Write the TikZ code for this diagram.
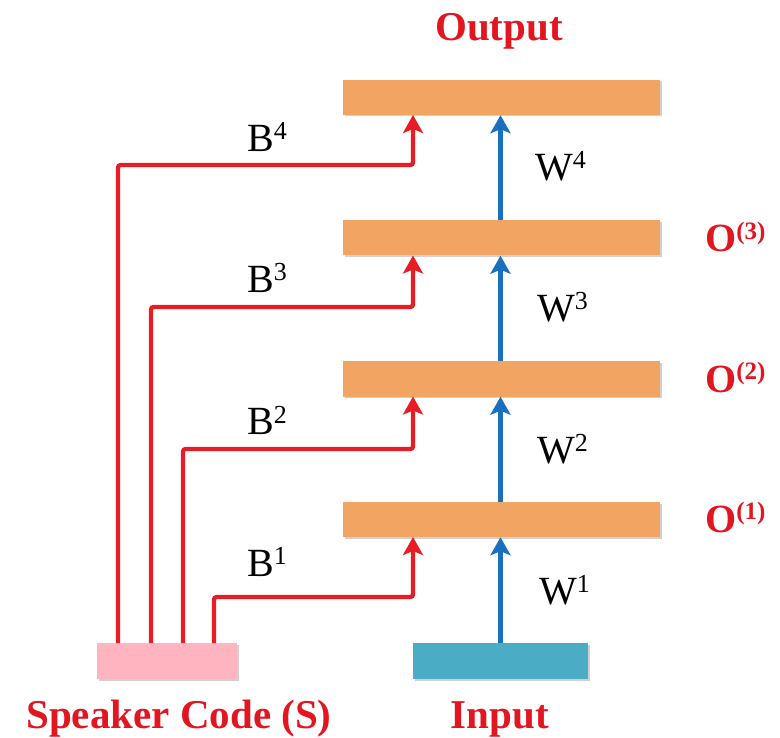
\documentclass[tikz,border=0pt]{standalone}
\usepackage{fontspec}
\setmainfont{Liberation Serif}
\usetikzlibrary{arrows.meta,shadows}
\definecolor{barorange}{RGB}{242,164,98}
\definecolor{spkpink}{RGB}{255,180,192}
\definecolor{inteal}{RGB}{75,172,198}
\definecolor{linered}{RGB}{232,28,36}
\definecolor{txtred}{RGB}{225,22,32}
\definecolor{lineblue}{RGB}{24,112,190}
\newcommand{\supnum}[1]{\raisebox{0.3em}{\fontsize{26}{30}\selectfont #1}}
\tikzset{
  boxshadow/.style={drop shadow={shadow xshift=1.5pt,shadow yshift=-1.5pt,opacity=0.18,fill=black}},
  bar/.style={rectangle,fill=barorange,minimum width=317pt,minimum height=35pt,inner sep=0pt,boxshadow},
  spkbox/.style={rectangle,fill=spkpink,minimum width=140pt,minimum height=36pt,inner sep=0pt,boxshadow},
  inbox/.style={rectangle,fill=inteal,minimum width=175pt,minimum height=36pt,inner sep=0pt,boxshadow},
  redline/.style={draw=linered,line width=4.2pt,rounded corners=2.5pt,-{Stealth[length=18pt,width=20pt,inset=4pt]}},
  blueline/.style={draw=lineblue,line width=4.2pt,-{Stealth[length=18pt,width=20pt,inset=4pt]}},
  wlabel/.style={inner sep=0pt,anchor=base west,font=\fontsize{40}{48}\selectfont,text=black},
  olabel/.style={inner sep=0pt,anchor=base west,font=\fontsize{40}{48}\selectfont\bfseries,text=txtred},
  title/.style={inner sep=0pt,anchor=base,font=\fontsize{41}{49}\selectfont\bfseries,text=txtred}
}
\begin{document}
\begin{tikzpicture}[x=1pt,y=-1pt]
\useasboundingbox (0,0) rectangle (780,738);
% hidden layers / output
\node[bar] (h4) at (501.5,97.5) {};
\node[bar] (h3) at (501.5,238) {};
\node[bar] (h2) at (501.5,379) {};
\node[bar] (h1) at (501.5,519.5) {};
% input boxes
\node[spkbox] (spk) at (167,661) {};
\node[inbox] (inp) at (500.5,661) {};
% blue arrows
\draw[blueline] (inp.north) -- (inp.north |- h1.south);
\draw[blueline] (inp.north |- h1.north) -- (inp.north |- h2.south);
\draw[blueline] (inp.north |- h2.north) -- (inp.north |- h3.south);
\draw[blueline] (inp.north |- h3.north) -- (inp.north |- h4.south);
% red connectors
\coordinate (s4) at (118,643);
\coordinate (s3) at (151,643);
\coordinate (s2) at (183,643);
\coordinate (s1) at (214,643);
\coordinate (t4) at (413,115);
\coordinate (t3) at (413,255.5);
\coordinate (t2) at (413,396.5);
\coordinate (t1) at (413,537);
\draw[redline] (s4) |- (413,165) -- (t4);
\draw[redline] (s3) |- (413,307) -- (t3);
\draw[redline] (s2) |- (413,449) -- (t2);
\draw[redline] (s1) |- (413,597) -- (t1);
% B labels
\node[wlabel] (b4) at (247,152) {B\supnum{4}};
\node[wlabel] (b3) at (247,293) {B\supnum{3}};
\node[wlabel] (b2) at (247,435) {B\supnum{2}};
\node[wlabel] (b1) at (247,576) {B\supnum{1}};
% W labels
\node[wlabel] (w4) at (535,181) {W\supnum{4}};
\node[wlabel] (w3) at (537,322) {W\supnum{3}};
\node[wlabel] (w2) at (537,463) {W\supnum{2}};
\node[wlabel] (w1) at (539,604) {W\supnum{1}};
% O labels
\node[olabel] (o3) at (705,252) {O\raisebox{0.32em}{\fontsize{25}{30}\selectfont\bfseries (3)}};
\node[olabel] (o2) at (705,392) {O\raisebox{0.32em}{\fontsize{25}{30}\selectfont\bfseries (2)}};
\node[olabel] (o1) at (705,532) {O\raisebox{0.32em}{\fontsize{25}{30}\selectfont\bfseries (1)}};
% titles
\node[title] (tout) at (499,41) {Output};
\node[title] (tspk) at (179,728) {Speaker Code (S)};
\node[title] (tinp) at (500,728) {Input};
\end{tikzpicture}
\end{document}
